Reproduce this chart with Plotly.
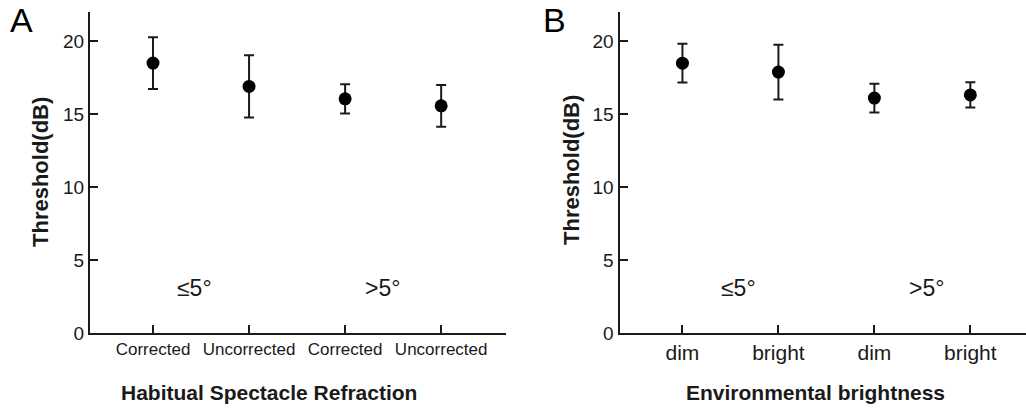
import plotly.graph_objects as go

W, H = 1026, 408

# ---- data ----
cats_a = ["Corrected", "Uncorrected", "Corrected", "Uncorrected"]
mean_a = [18.5, 16.9, 16.05, 15.57]
err_a = [1.77, 2.13, 1.0, 1.43]

cats_b = ["dim", "bright", "dim", "bright"]
mean_b = [18.49, 17.88, 16.1, 16.32]
err_b = [1.33, 1.87, 0.98, 0.86]

yticks = [0, 5, 10, 15, 20]
group_labels = ["≤5°", ">5°"]

fig = go.Figure()

ink = "#1a1a1a"
font = "Liberation Sans, Arial, sans-serif"

fig.add_trace(go.Scatter(
    x=list(range(len(cats_a))), y=mean_a, mode="markers",
    marker=dict(size=13, color="black"),
    error_y=dict(type="data", array=err_a, visible=True, thickness=2, width=5, color=ink),
    xaxis="x", yaxis="y", showlegend=False))
fig.add_trace(go.Scatter(
    x=list(range(len(cats_b))), y=mean_b, mode="markers",
    marker=dict(size=13, color="black"),
    error_y=dict(type="data", array=err_b, visible=True, thickness=2, width=5, color=ink),
    xaxis="x2", yaxis="y2", showlegend=False))

def px_x(p):
    return p / W

def px_y(p):
    return 1 - p / H

common_x = dict(showline=True, linewidth=2, linecolor=ink, ticks="inside", ticklen=8,
                tickwidth=2, tickcolor=ink, showgrid=False, zeroline=False,
                automargin=False)
common_y = dict(showline=True, linewidth=2, linecolor=ink, ticks="inside", ticklen=8,
                tickwidth=2, tickcolor=ink, showgrid=False, zeroline=False,
                automargin=False, range=[0, 22], tickvals=yticks,
                tickfont=dict(family=font, size=19, color=ink))

fig.update_layout(
    width=W, height=H, margin=dict(l=0, r=0, t=0, b=0),
    paper_bgcolor="white", plot_bgcolor="white",
    xaxis=dict(domain=[px_x(90), px_x(506)], range=[-0.656, 3.675],
               tickvals=list(range(len(cats_a))), ticktext=cats_a, anchor="y",
               tickfont=dict(family=font, size=17, color=ink), **common_x),
    yaxis=dict(domain=[px_y(333), px_y(12)], anchor="x", **common_y),
    xaxis2=dict(domain=[px_x(619.5), 1.0], range=[-0.656, 3.58],
                tickvals=list(range(len(cats_b))), ticktext=cats_b, anchor="y2",
                tickfont=dict(family=font, size=21, color=ink), **common_x),
    yaxis2=dict(domain=[px_y(333), px_y(12)], anchor="x2", **common_y),
)

anns = []
# panel letters
anns.append(dict(x=px_x(21), y=px_y(20), text="A", font=dict(family=font, size=34, color="black")))
anns.append(dict(x=px_x(554), y=px_y(20), text="B", font=dict(family=font, size=34, color="black")))
# group labels (data coords)
for xr, yr, xs in [("x", "y", [0.43, 2.39]), ("x2", "y2", [0.58, 2.54])]:
    for xv, lab in zip(xs, group_labels):
        anns.append(dict(x=xv, y=3.1, xref=xr, yref=yr, text=lab,
                         font=dict(family=font, size=23, color=ink)))
# axis titles
anns.append(dict(x=px_x(269), y=px_y(392), text="<b>Habitual Spectacle Refraction</b>",
                 font=dict(family=font, size=21, color=ink)))
anns.append(dict(x=px_x(815), y=px_y(392), text="<b>Environmental brightness</b>",
                 font=dict(family=font, size=21, color=ink)))
anns.append(dict(x=px_x(40), y=px_y(172), text="<b>Threshold(dB)</b>", textangle=-90,
                 font=dict(family=font, size=22, color=ink)))
anns.append(dict(x=px_x(571), y=px_y(170), text="<b>Threshold(dB)</b>", textangle=-90,
                 font=dict(family=font, size=22, color=ink)))
for a in anns:
    a.setdefault("xref", "paper")
    a.setdefault("yref", "paper")
    a["showarrow"] = False
    a["xanchor"] = "center"
    a["yanchor"] = "middle"
fig.update_layout(annotations=anns)

fig.write_html("out.html")
